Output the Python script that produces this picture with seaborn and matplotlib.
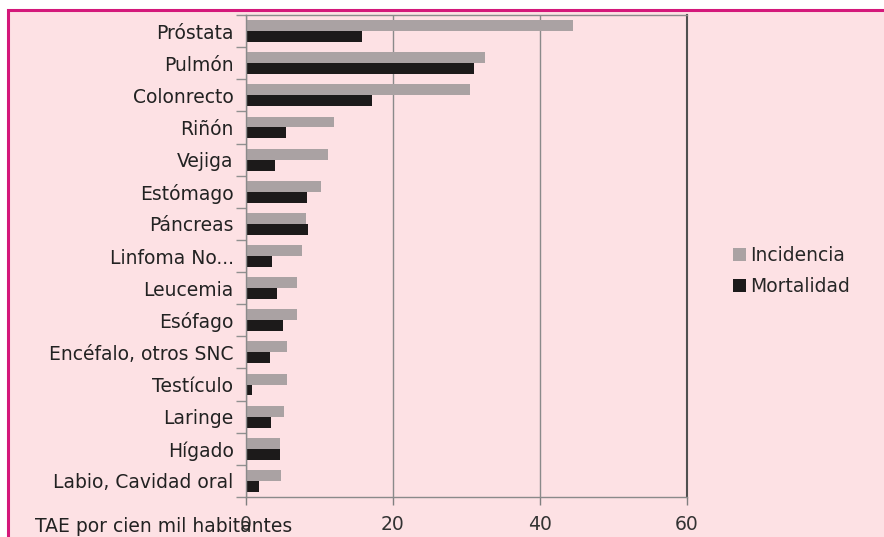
import matplotlib
matplotlib.use("Agg")
import matplotlib.pyplot as plt
from matplotlib.patches import Rectangle
from matplotlib.ticker import FixedLocator, NullFormatter
import seaborn as sns
import pandas as pd

categories = ["Próstata", "Pulmón", "Colonrecto", "Riñón", "Vejiga", "Estómago",
              "Páncreas", "Linfoma No...", "Leucemia", "Esófago",
              "Encéfalo, otros SNC", "Testículo", "Laringe", "Hígado",
              "Labio, Cavidad oral"]
incidencia = [44.5, 32.5, 30.5, 12.0, 11.2, 10.2, 8.2, 7.6, 7.0, 6.9, 5.6, 5.6, 5.2, 4.6, 4.8]
mortalidad = [15.8, 31.0, 17.1, 5.5, 4.0, 8.3, 8.4, 3.6, 4.2, 5.1, 3.2, 0.8, 3.4, 4.6, 1.8]
series_names = ["Incidencia", "Mortalidad"]
x_ticks = [0, 20, 40, 60]
x_label = "TAE por cien mil habitantes"

df = pd.DataFrame({
    "Tipo": categories * 2,
    "Serie": [series_names[0]] * len(categories) + [series_names[1]] * len(categories),
    "Valor": incidencia + mortalidad,
})

BG = "#fde1e4"
FS = 13.5
sns.set_theme(style="white")
plt.rcParams["font.family"] = ["DejaVu Sans"]

fig = plt.figure(figsize=(8.84, 5.37), dpi=100)
fig.patch.set_facecolor("white")
fig.patches.append(Rectangle((8 / 884, -0.01), 1.0, 1 - 10 / 537 + 0.01,
                             transform=fig.transFigure, facecolor=BG,
                             edgecolor="#d4187a", linewidth=2.2, zorder=-10))

ax = fig.add_axes([246 / 884, 1 - 497 / 537, (687 - 246) / 884, (497 - 15) / 537])
ax.set_facecolor(BG)

sns.barplot(data=df, y="Tipo", x="Valor", hue="Serie", order=categories,
            hue_order=series_names, palette=["#aaa2a3", "#1c1a1a"],
            width=0.68, orient="h", ax=ax, saturation=1, legend=True,
            linewidth=0)

ax.set_xlim(0, 60)
ax.set_ylim(len(categories) - 0.5, -0.5)
ax.set_xticks(x_ticks)
ax.set_xticklabels([str(t) for t in x_ticks], fontsize=FS, color="#333333")
ax.tick_params(axis="x", length=6, width=1, color="#808080", direction="out", pad=7, bottom=True)
ax.tick_params(axis="y", which="major", length=0, labelsize=FS, labelcolor="#222222", pad=9)
ax.yaxis.set_minor_locator(FixedLocator([i + 0.5 for i in range(-1, len(categories))]))
ax.yaxis.set_minor_formatter(NullFormatter())
ax.tick_params(axis="y", which="minor", length=7, width=1, color="#909090", left=True, direction="out")
ax.grid(axis="x", color="#8a8a8a", linewidth=1)
ax.grid(axis="y", visible=False)
ax.set_axisbelow(True)
ax.set_xlabel("")
ax.set_ylabel("")
for s in ["left", "bottom", "top"]:
    ax.spines[s].set_color("#8a8a8a")
    ax.spines[s].set_linewidth(1)
ax.spines["right"].set_color("#505050")
ax.spines["right"].set_linewidth(1.5)

leg = ax.legend(loc="center left", bbox_to_anchor=(733 / 884, 1 - 271 / 537),
                bbox_transform=fig.transFigure, frameon=False, fontsize=FS,
                handlelength=0.7, handleheight=0.7, handletextpad=0.2,
                labelspacing=0.6, borderpad=0, borderaxespad=0)

fig.text(35 / 884, 1 - 527 / 537, x_label, fontsize=FS, color="#222222",
         ha="left", va="center")

fig.savefig("out.png", dpi=100, facecolor="white")
